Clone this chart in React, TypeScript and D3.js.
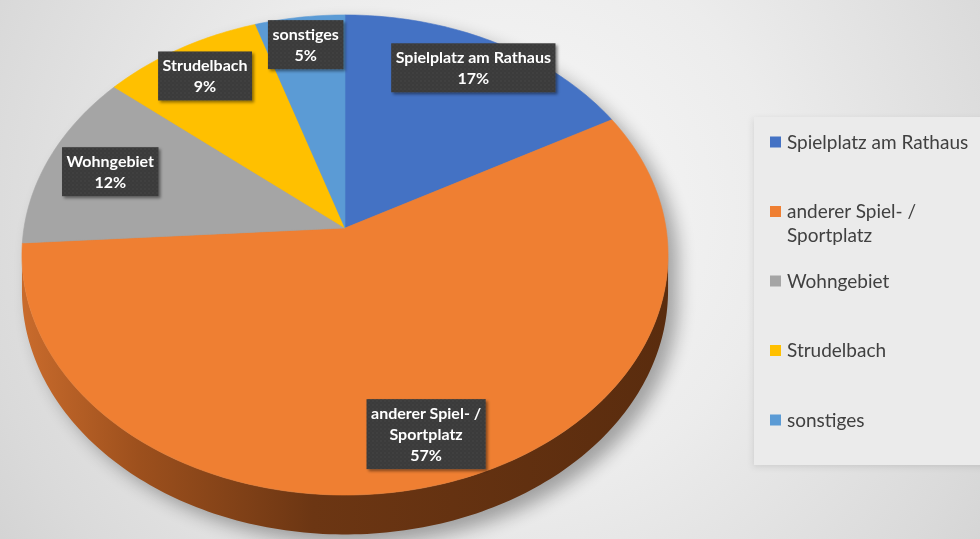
import React, { useEffect, useRef } from "react";
import * as d3 from "d3";

const categories = ["Spielplatz am Rathaus", "anderer Spiel- / Sportplatz", "Wohngebiet", "Strudelbach", "sonstiges"];
const values = [17, 57, 12, 9, 5];
const labelLines = [["Spielplatz am Rathaus"], ["anderer Spiel- /", "Sportplatz"], ["Wohngebiet"], ["Strudelbach"], ["sonstiges"]];
const legendLines = [["Spielplatz am Rathaus"], ["anderer Spiel- /", "Sportplatz"], ["Wohngebiet"], ["Strudelbach"], ["sonstiges"]];
const colors = ["#4472c4", "#ef7f32", "#a5a5a5", "#ffc000", "#5b9bd5"];

// layout (not data)
const LABEL_RADIUS = [0.85, 0.825, 0.79, 0.836, 0.858];

export default function App() {
  const ref = useRef<SVGSVGElement>(null);
  useEffect(() => {
    const W = 980, H = 539;
    const svg = d3.select(ref.current);
    svg.selectAll("*").remove();
    const defs = svg.append("defs");

    // background
    const bg = defs.append("radialGradient").attr("id", "bg").attr("gradientUnits", "userSpaceOnUse")
      .attr("cx", 500).attr("cy", 210).attr("r", 620);
    [[0, "#f8f8f8"], [0.45, "#ececec"], [0.85, "#dadada"], [1, "#d2d2d2"]].forEach(([o, c]) =>
      bg.append("stop").attr("offset", o as number).attr("stop-color", c as string));
    svg.append("rect").attr("width", W).attr("height", H).attr("fill", "url(#bg)");

    // projection of the tilted disk
    const cx = 345, cy = 228, A = 321, B = 237, k = 0.1125, D = 35;
    const P = (t: number, r = 1, depth = 0): [number, number] => {
      const u = r * Math.sin(t), v = r * Math.cos(t);
      const w = 1 + k * v;
      return [cx + (A * u) / w, cy + (-B * v + depth * D) / w];
    };

    const pie = d3.pie<number>().sort(null).startAngle(0).endAngle(2 * Math.PI);
    const arcs = pie(values);

    const sample = (a0: number, a1: number, depth = 0) => {
      const n = Math.max(2, Math.ceil(((a1 - a0) * 180) / Math.PI));
      return d3.range(n + 1).map((i) => P(a0 + ((a1 - a0) * i) / n, 1, depth));
    };
    const line = d3.line();

    // silhouette: find extreme angles
    let tR = 0, tL = 0, xMax = -Infinity, xMin = Infinity;
    for (let i = 0; i < 3600; i++) {
      const t = (i / 3600) * 2 * Math.PI;
      const [x] = P(t);
      if (x > xMax) { xMax = x; tR = t; }
      if (x < xMin) { xMin = x; tL = t; }
    }
    const topFront = sample(tR, tL, 0);
    const botFront = sample(tR, tL, 1).reverse();
    const sidePts = [...topFront, ...botFront];
    const topAll = sample(0, 2 * Math.PI, 0);

    // shadow
    const sh = defs.append("filter").attr("id", "pieShadow").attr("x", "-20%").attr("y", "-20%").attr("width", "140%").attr("height", "140%");
    sh.append("feGaussianBlur").attr("stdDeviation", 9);
    const shG = svg.append("g").attr("filter", "url(#pieShadow)").attr("transform", "translate(10,9)").attr("opacity", 0.32);
    shG.append("path").attr("d", line(sidePts) + "Z").attr("fill", "#000");
    shG.append("path").attr("d", line(topAll) + "Z").attr("fill", "#000");

    // side gradient
    const sg = defs.append("linearGradient").attr("id", "side").attr("gradientUnits", "userSpaceOnUse")
      .attr("x1", xMin).attr("x2", xMax).attr("y1", 0).attr("y2", 0);
    [[0, "#c96b2c"], [0.18, "#9d501d"], [0.45, "#6c3613"], [1, "#5a2c0e"]].forEach(([o, c]) =>
      sg.append("stop").attr("offset", o as number).attr("stop-color", c as string));
    svg.append("path").attr("d", line(sidePts) + "Z").attr("fill", "url(#side)");

    // top face slices
    arcs.forEach((a, i) => {
      const pts = [[cx, cy] as [number, number], ...sample(a.startAngle, a.endAngle, 0)];
      svg.append("path").attr("d", line(pts) + "Z").attr("fill", colors[i])
        .attr("stroke", colors[i]).attr("stroke-width", 0.6);
    });

    // label pattern & shadow
    const pat = defs.append("pattern").attr("id", "dots").attr("patternUnits", "userSpaceOnUse").attr("width", 4).attr("height", 4);
    pat.append("rect").attr("width", 4).attr("height", 4).attr("fill", "#3a3a3a");
    pat.append("circle").attr("cx", 1).attr("cy", 1).attr("r", 0.7).attr("fill", "#4d4d4d");
    pat.append("circle").attr("cx", 3).attr("cy", 3).attr("r", 0.7).attr("fill", "#454545");
    const ls = defs.append("filter").attr("id", "lblShadow").attr("x", "-20%").attr("y", "-30%").attr("width", "150%").attr("height", "170%");
    ls.append("feDropShadow").attr("dx", 2).attr("dy", 2).attr("stdDeviation", 1.8).attr("flood-color", "#000").attr("flood-opacity", 0.45);

    const lineH = 21;
    arcs.forEach((a, i) => {
      const mid = (a.startAngle + a.endAngle) / 2;
      const [lx, ly] = P(mid, LABEL_RADIUS[i]);
      const lines = [...labelLines[i], `${values[i]}%`];
      const g = svg.append("g");
      const txt = g.append("text").attr("font-family", "Lato, 'Open Sans', sans-serif").attr("font-weight", "bold")
        .attr("font-size", 16).attr("fill", "#fff").attr("text-anchor", "middle");
      lines.forEach((l, j) => {
        txt.append("tspan").attr("x", lx).attr("y", ly + (j - (lines.length - 1) / 2) * lineH).attr("dy", "0.35em").text(l);
      });
      let tw = 0;
      txt.selectAll<SVGTSpanElement, unknown>("tspan").each(function () {
        tw = Math.max(tw, this.getComputedTextLength());
      });
      const bw = tw + 9, bh = lines.length * lineH + 7;
      g.insert("rect", "text").attr("x", lx - bw / 2).attr("y", ly - bh / 2).attr("width", bw).attr("height", bh)
        .attr("fill", "url(#dots)").attr("filter", "url(#lblShadow)");
    });

    // legend
    const lg = defs.append("filter").attr("id", "lgShadow").attr("x", "-10%").attr("y", "-10%").attr("width", "120%").attr("height", "120%");
    lg.append("feDropShadow").attr("dx", -1).attr("dy", 2).attr("stdDeviation", 3).attr("flood-color", "#000").attr("flood-opacity", 0.1);
    svg.append("rect").attr("x", 754).attr("y", 117).attr("width", 260).attr("height", 348)
      .attr("fill", "#ebebeb").attr("filter", "url(#lgShadow)");
    const ly0 = 142, step = 69.5;
    categories.forEach((c, i) => {
      const y = ly0 + i * step;
      svg.append("rect").attr("x", 770).attr("y", y - 5.5).attr("width", 11).attr("height", 11).attr("fill", colors[i]);
      const t = svg.append("text").attr("font-family", "Lato, 'Open Sans', sans-serif").attr("font-size", 19).attr("fill", "#404040");
      legendLines[i].forEach((l, j) => {
        t.append("tspan").attr("x", 787).attr("y", y + j * 24).attr("dy", "0.35em").text(l);
      });
    });
  }, []);
  return <svg ref={ref} width={980} height={539} style={{ position: "fixed", left: 0, top: 0, display: "block" }} />;
}
